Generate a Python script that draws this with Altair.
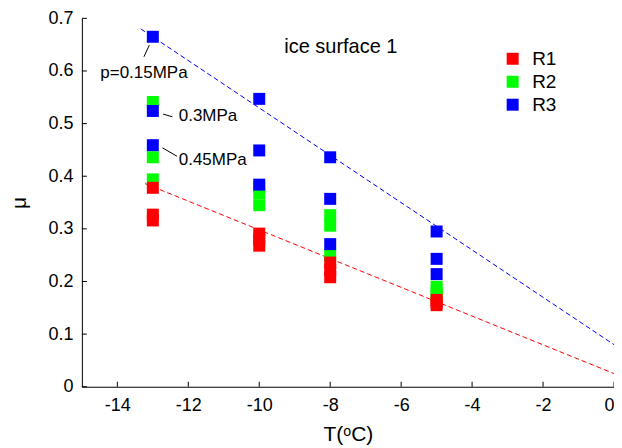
import altair as alt
import pandas as pd

# ---- data ----
temps = [-13, -10, -8, -5]
r1_vals = [[0.378, 0.327, 0.316], [0.291, 0.280, 0.268], [0.236, 0.222, 0.208], [0.165, 0.160, 0.155]]
r2_vals = [[0.541, 0.436, 0.394], [0.380, 0.368, 0.345], [0.326, 0.306, 0.250], [0.190, 0.182, 0.172]]
r3_vals = [[0.665, 0.524, 0.459], [0.547, 0.449, 0.384], [0.436, 0.357, 0.271], [0.295, 0.243, 0.214]]

fit_T_blue = [-13.34, 0]
fit_blue = [0.680, 0.080]
fit_T_red = [-13.22, 0]
fit_red = [0.386, 0.025]

x_ticks = [-14, -12, -10, -8, -6, -4, -2, 0]
y_ticks = [0, 0.1, 0.2, 0.3, 0.4, 0.5, 0.6, 0.7]

series_names = ["R1", "R2", "R3"]
series_colors = ["#ff0000", "#00ff00", "#0000ff"]

ann_text = ["ice surface 1", "p=0.15MPa", "0.3MPa", "0.45MPa"]
ann_T = [-7.70, -13.25, -12.27, -12.27]
ann_mu = [0.645, 0.596, 0.514, 0.431]
ann_size = [20, 17, 17, 17]
ann_align = ["center", "center", "left", "left"]

lead_T1 = [-13.25, -12.71, -12.73]
lead_mu1 = [0.627, 0.518, 0.454]
lead_T2 = [-13.10, -12.45, -12.32]
lead_mu2 = [0.649, 0.513, 0.438]

FONT = "Liberation Sans"

# ---- tables ----
rows = []
for name, vals in [("R2", r2_vals), ("R1", r1_vals), ("R3", r3_vals)]:
    for t, triple in zip(temps, vals):
        for v in triple:
            rows.append({"T": t, "mu": v, "series": name})
pts = pd.DataFrame(rows)

blue_df = pd.DataFrame({"T": fit_T_blue, "mu": fit_blue})
red_df = pd.DataFrame({"T": fit_T_red, "mu": fit_red})
xt_df = pd.DataFrame({"T": x_ticks})
yt_df = pd.DataFrame({"mu": y_ticks})
lead_df = pd.DataFrame({"T": lead_T1, "mu": lead_mu1, "T2": lead_T2, "mu2": lead_mu2})

xscale = alt.Scale(domain=[-15, 0], nice=False, zero=False)
yscale = alt.Scale(domain=[0, 0.7], nice=False)

xaxis = alt.Axis(values=x_ticks, ticks=False, grid=False, labelExpr="'' + datum.value",
                 labelFontSize=18, labelFont=FONT, labelColor="black", labelPadding=10,
                 title="T(ᵒC)", titleFont=FONT, titleFontSize=21, titleFontWeight="normal",
                 titleColor="black", titlePadding=9, domainColor="black")
yaxis = alt.Axis(values=y_ticks, ticks=False, grid=False,
                 labelExpr="format(datum.value, '.1~f')",
                 labelFontSize=18, labelFont=FONT, labelColor="black", labelPadding=9,
                 title="μ", titleFont=FONT, titleFontSize=21, titleFontWeight="normal",
                 titleColor="black", titlePadding=18, domainColor="black")

points = alt.Chart(pts).mark_square(size=144, opacity=1).encode(
    x=alt.X("T:Q", scale=xscale, axis=xaxis),
    y=alt.Y("mu:Q", scale=yscale, axis=yaxis),
    color=alt.Color("series:N",
                    scale=alt.Scale(domain=series_names, range=series_colors),
                    legend=alt.Legend(title=None, orient="none", legendX=422, legendY=31,
                                      symbolType="square", symbolSize=144, symbolOpacity=1,
                                      symbolStrokeWidth=0,
                                      labelFont=FONT, labelFontSize=19, labelColor="black",
                                      labelOffset=10, rowPadding=3, padding=0)),
)

blue_line = alt.Chart(blue_df).mark_line(color="#0000ff", strokeWidth=1, strokeDash=[5, 3]).encode(
    x=alt.X("T:Q", scale=xscale), y=alt.Y("mu:Q", scale=yscale))
red_line = alt.Chart(red_df).mark_line(color="#ff0000", strokeWidth=1, strokeDash=[5, 3]).encode(
    x=alt.X("T:Q", scale=xscale), y=alt.Y("mu:Q", scale=yscale))

texts = []
for txt, t, m, s, a in zip(ann_text, ann_T, ann_mu, ann_size, ann_align):
    texts.append(alt.Chart(pd.DataFrame({"T": [t], "mu": [m], "label": [txt]})).mark_text(
        font=FONT, fontSize=s, align=a, baseline="middle", color="black").encode(
        x=alt.X("T:Q", scale=xscale), y=alt.Y("mu:Q", scale=yscale), text="label:N"))

leaders = alt.Chart(lead_df).mark_rule(color="black", strokeWidth=1).encode(
    x=alt.X("T:Q", scale=xscale), y=alt.Y("mu:Q", scale=yscale), x2="T2:Q", y2="mu2:Q")

xt = alt.Chart(xt_df).mark_rule(color="black", strokeWidth=1).encode(
    x=alt.X("T:Q", scale=xscale), y=alt.value(369), y2=alt.value(364))
yt = alt.Chart(yt_df).mark_rule(color="black", strokeWidth=1).encode(
    y=alt.Y("mu:Q", scale=yscale), x=alt.value(0), x2=alt.value(5))

chart = alt.layer(blue_line, red_line, points, leaders, xt, yt, *texts).properties(
    width=533, height=369,
    autosize=alt.AutoSizeParams(type="none"),
    padding={"left": 74, "top": 10, "right": 0, "bottom": 60},
    background="white",
).configure_view(stroke=None)

chart.save("out.html", embed_options={"renderer": "svg", "actions": False})
